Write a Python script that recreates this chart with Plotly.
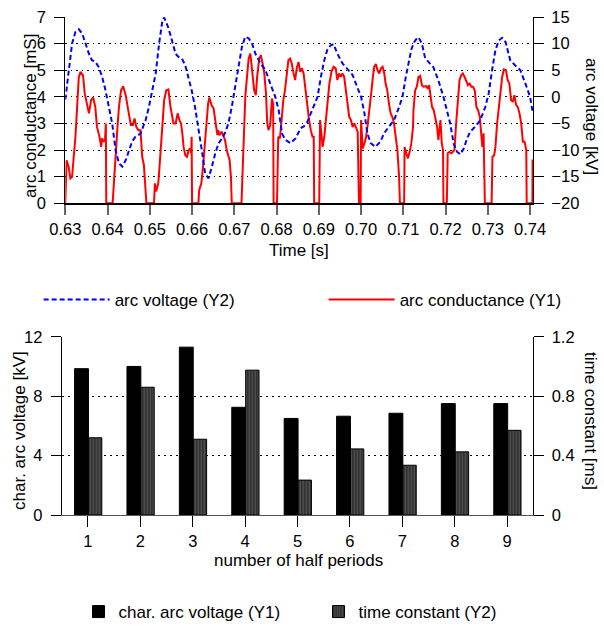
import plotly.graph_objects as go

# ---- upper panel: arc voltage and arc conductance over time ----
volt_t_ms = [
    630.0, 630.8, 631.6, 632.4, 633.2, 634.0, 634.75, 635.6, 636.3, 637.1,
    637.9, 638.7, 639.5, 640.3, 641.1, 641.5, 641.9, 642.7, 643.5, 644.3,
    645.1, 645.8, 646.6, 647.8, 649.0, 649.8, 650.6, 651.4, 652.2, 653.0,
    653.4, 654.2, 654.9, 656.1, 656.8, 657.6, 658.4, 659.1, 659.9, 660.7,
    661.5, 662.3, 663.1, 663.9, 664.7, 665.5, 666.3, 667.1, 667.9, 668.6,
    669.4, 670.2, 671.0, 671.8, 672.6, 673.4, 674.2, 675.0, 676.2, 677.4,
    678.5, 679.7, 680.5, 681.3, 682.1, 683.3, 684.5, 685.1, 685.7, 686.5,
    687.3, 688.1, 688.9, 689.7, 690.5, 691.3, 692.0, 692.8, 693.5, 694.4,
    695.6, 696.8, 698.0, 699.2, 700.0, 700.8, 701.5, 702.3, 703.4, 704.6,
    705.4, 706.6, 707.8, 709.0, 709.8, 710.6, 711.3, 711.9, 712.5, 713.2,
    713.6, 714.4, 715.1, 715.9, 717.1, 718.3, 719.5, 720.3, 721.1, 721.9,
    722.7, 723.5, 724.3, 725.1, 725.8, 727.0, 728.2, 729.4, 730.2, 731.0,
    731.8, 732.6, 733.4, 734.2, 735.3, 736.5, 737.7, 738.9, 740.0, 740.6,
]
volt_kv = [
    -0.5, 5.0, 10.0, 12.2, 12.7, 11.9, 10.0, 8.1, 6.9, 6.6,
    5.6, 3.8, 1.3, -1.9, -5.0, -7.5, -10.0, -12.5, -13.1, -11.9,
    -10.0, -8.4, -7.5, -6.9, -4.4, -1.9, 1.3, 4.4, 10.0, 14.4,
    14.9, 13.4, 11.6, 8.1, 7.5, 7.2, 5.9, 3.8, 1.3, -1.9,
    -5.6, -10.0, -14.4, -15.3, -13.1, -10.6, -8.7, -7.8, -6.6, -5.0,
    -1.9, 1.9, 6.3, 9.4, 11.3, 11.0, 10.0, 8.1, 6.3, 5.0,
    2.5, 0.0, -2.5, -6.9, -8.1, -8.7, -7.8, -6.9, -5.9, -5.5,
    -4.7, -3.1, -1.6, 0.0, 3.8, 6.9, 8.8, 9.7, 9.9, 8.1,
    6.3, 5.3, 4.1, 1.6, 0.0, -3.1, -6.9, -8.7, -9.4, -8.4,
    -6.9, -5.6, -4.4, -1.9, 0.0, 3.8, 6.9, 8.9, 10.2, 11.0,
    11.2, 10.0, 7.5, 6.6, 5.6, 3.1, 0.0, -2.5, -5.0, -8.7,
    -10.3, -10.8, -9.7, -7.8, -6.6, -5.6, -4.4, -1.9, 0.6, 5.0,
    8.8, 10.6, 11.1, 10.3, 6.9, 5.9, 5.0, 2.5, 0.0, -2.8,
]

cond_t_ms = [
    630.0, 630.3, 630.8, 631.2, 631.6, 632.0, 632.4, 632.8, 633.2, 633.6,
    634.2, 634.6, 635.2, 635.6, 636.1, 636.6, 637.1, 637.5, 638.1, 638.5,
    638.7, 639.1, 639.4, 639.6, 639.7, 641.2, 641.5, 641.9, 642.3, 642.7,
    643.2, 643.7, 644.3, 644.7, 645.1, 645.5, 646.0, 646.4, 646.8, 647.3,
    647.8, 648.2, 648.6, 649.0, 649.2, 651.0, 651.2, 651.5, 652.0, 652.3,
    652.6, 653.0, 653.4, 653.9, 654.4, 654.9, 655.6, 656.1, 656.6, 657.0,
    657.4, 657.7, 658.0, 658.4, 658.8, 659.2, 659.6, 659.8, 659.9, 660.0,
    661.5, 661.7, 662.2, 662.6, 663.0, 663.4, 663.8, 664.1, 664.6, 665.1,
    665.6, 666.0, 666.2, 666.5, 667.0, 667.4, 667.8, 668.2, 668.6, 668.9,
    669.2, 669.4, 671.7, 672.0, 672.3, 672.6, 673.0, 673.4, 673.8, 674.2,
    674.7, 675.1, 675.4, 675.9, 676.3, 676.7, 677.1, 677.5, 677.8, 678.1,
    678.5, 678.9, 679.2, 679.3, 680.1, 680.4, 680.8, 681.2, 681.6, 682.0,
    682.4, 682.8, 683.2, 683.6, 684.0, 684.4, 684.8, 685.2, 685.6, 686.0,
    686.4, 686.8, 687.3, 687.7, 688.1, 688.5, 688.8, 688.9, 690.1, 690.3,
    690.6, 690.9, 691.3, 691.7, 692.1, 692.5, 693.0, 693.5, 694.0, 694.4,
    694.8, 695.2, 695.6, 696.0, 696.4, 696.8, 697.2, 697.6, 698.0, 698.4,
    698.8, 699.2, 699.5, 699.9, 700.0, 700.4, 700.8, 701.2, 701.6, 702.0,
    702.4, 702.8, 703.1, 703.5, 703.9, 704.3, 704.7, 705.1, 705.5, 705.8,
    706.2, 706.6, 707.0, 707.4, 707.8, 708.2, 708.6, 709.0, 709.2, 710.2,
    710.3, 710.7, 711.1, 711.6, 711.9, 712.3, 712.4, 712.8, 713.2, 713.6,
    714.0, 714.4, 714.8, 715.4, 715.8, 716.1, 716.4, 716.8, 717.2, 717.6,
    718.0, 718.3, 718.6, 718.8, 719.1, 719.4, 719.5, 720.3, 720.5, 720.9,
    721.4, 722.1, 722.5, 722.9, 723.3, 723.7, 724.1, 724.5, 724.9, 725.3,
    725.7, 726.1, 726.5, 726.9, 727.3, 727.7, 728.1, 728.5, 728.7, 729.0,
    729.3, 730.9, 731.1, 731.5, 731.8, 732.2, 732.6, 733.0, 733.4, 733.8,
    734.3, 734.7, 735.1, 735.5, 735.9, 736.3, 736.7, 737.1, 737.5, 737.9,
    738.3, 738.7, 739.1, 739.2, 740.55, 740.6,
]
cond_mS = [
    0.0, 1.62, 1.37, 0.94, 0.99, 1.75, 2.5, 3.62, 4.75, 4.94,
    4.81, 4.13, 3.62, 3.38, 3.88, 3.98, 3.62, 2.87, 2.5, 2.12,
    2.44, 2.31, 2.4, 3.0, 0.0, 0.0, 0.75, 1.88, 2.75, 3.62,
    4.25, 4.4, 4.06, 3.69, 3.38, 2.94, 2.94, 3.19, 2.87, 2.75,
    2.75, 1.75, 1.44, 0.25, 0.0, 0.0, 0.75, 0.44, 0.75, 1.37,
    2.12, 3.13, 3.88, 4.25, 4.28, 3.62, 3.0, 3.0, 3.38, 3.13,
    3.0, 2.63, 2.12, 1.81, 1.75, 2.0, 2.06, 1.88, 2.5, 0.0,
    0.0, 0.5, 0.75, 1.37, 2.25, 3.13, 3.75, 3.98, 3.69, 3.56,
    3.0, 2.56, 2.75, 2.56, 2.69, 2.56, 2.38, 2.0, 1.75, 1.62,
    1.0, 0.0, 0.0, 1.62, 3.13, 4.0, 4.75, 5.44, 5.63, 5.0,
    4.25, 4.06, 4.75, 5.44, 5.57, 5.25, 4.88, 4.13, 3.0, 2.75,
    2.94, 3.94, 3.75, 0.0, 0.0, 2.5, 2.44, 3.13, 3.88, 4.25,
    4.88, 5.38, 5.44, 5.25, 4.9, 4.63, 5.1, 5.31, 4.94, 5.07,
    4.88, 4.3, 3.5, 3.13, 2.75, 2.5, 2.5, 0.0, 0.0, 3.13,
    2.63, 2.12, 2.5, 3.13, 3.88, 4.5, 4.94, 5.13, 5.07, 4.63,
    4.88, 4.75, 4.88, 4.75, 4.25, 3.75, 3.25, 3.13, 2.87, 3.0,
    2.87, 2.69, 0.0, 0.0, 3.13, 2.06, 2.25, 2.5, 3.0, 3.5,
    4.13, 4.75, 5.13, 5.23, 5.0, 4.88, 5.07, 5.13, 4.88, 4.5,
    4.25, 3.75, 3.38, 3.25, 3.0, 2.5, 2.0, 1.0, 0.0, 0.0,
    2.12, 1.88, 1.69, 2.0, 2.25, 2.87, 3.5, 4.25, 4.38, 4.75,
    4.79, 4.44, 4.38, 4.4, 4.31, 4.44, 4.13, 3.62, 3.5, 3.13,
    2.87, 2.38, 3.0, 3.13, 2.25, 2.0, 0.0, 0.0, 1.88, 1.93,
    1.88, 2.0, 3.0, 4.0, 4.63, 4.81, 4.88, 4.75, 4.56, 4.44,
    4.5, 4.38, 4.38, 4.25, 3.62, 3.5, 3.25, 2.25, 2.12, 2.63,
    0.0, 0.0, 1.75, 1.81, 2.12, 3.0, 3.62, 4.25, 4.75, 5.03,
    5.0, 4.63, 4.5, 3.88, 3.81, 4.06, 3.69, 3.62, 3.38, 3.0,
    2.31, 2.31, 2.0, 0.0, 0.0, 1.65,
]

# ---- lower panel: characteristic arc voltage and time constant ----
half_periods = [1, 2, 3, 4, 5, 6, 7, 8, 9]
char_voltage_kV = [9.85, 10.0, 11.3, 7.25, 6.5, 6.65, 6.85, 7.5, 7.5]
time_constant_ms = [0.52, 0.86, 0.51, 0.975, 0.235, 0.445, 0.335, 0.425, 0.57]

FONT = "Liberation Sans, Arial, sans-serif"
FS_TICK = 16.5
FS_TEXT = 17

volt_t_s = [t / 1000 for t in volt_t_ms]
cond_t_s = [t / 1000 for t in cond_t_ms]

fig = go.Figure()
fig.add_trace(go.Scatter(
    x=volt_t_s, y=volt_kv, xaxis="x", yaxis="y2", mode="lines",
    name="arc voltage (Y2)", legend="legend",
    line=dict(color="#0000ff", width=2, dash="5px,3px"),
))
fig.add_trace(go.Scatter(
    x=cond_t_s, y=cond_mS, xaxis="x", yaxis="y", mode="lines",
    name="arc conductance (Y1)", legend="legend",
    line=dict(color="#ff0000", width=2),
))
fig.add_trace(go.Bar(
    x=half_periods, y=char_voltage_kV, xaxis="x2", yaxis="y3",
    offset=-0.255, width=0.265, name="char. arc voltage (Y1)", legend="legend2",
    marker=dict(color="black", line=dict(color="black", width=1)),
))
fig.add_trace(go.Bar(
    x=half_periods, y=time_constant_ms, xaxis="x2", yaxis="y4",
    offset=0.01, width=0.255, name="time constant (Y2)", legend="legend2",
    marker=dict(
        color="#333333", line=dict(color="black", width=1),
        pattern=dict(shape="|", fgcolor="#7a7a7a", bgcolor="#333333",
                     size=3, solidity=0.35),
    ),
))

axis_common = dict(
    showline=True, linecolor="black", linewidth=1, ticks="outside",
    ticklen=10, tickcolor="black", zeroline=False, automargin=False,
    tickfont=dict(family=FONT, size=FS_TICK, color="black"),
)

fig.update_layout(
    width=604, height=626,
    margin=dict(l=0, r=0, t=0, b=0, autoexpand=False),
    paper_bgcolor="white", plot_bgcolor="white",
    font=dict(family=FONT, size=FS_TEXT, color="black"),
    barmode="overlay",
    xaxis=dict(
        axis_common, domain=[0.1081, 0.8825], anchor="y",
        range=[0.63, 0.7407], tick0=0.63, dtick=0.01, tickformat=".2f",
        showgrid=False, linewidth=1.5, tickcolor="#666666", tickwidth=1.5,
        ticklabelstandoff=0,
    ),
    yaxis=dict(
        axis_common, domain=[0.6752, 0.9728], anchor="x",
        range=[0, 7], dtick=1, showgrid=True, gridcolor="black",
        gridwidth=1, griddash="1.5px,4px", ticklabelstandoff=5,
    ),
    yaxis2=dict(
        axis_common, overlaying="y", side="right", anchor="x",
        range=[-20, 15], dtick=5, showgrid=False, ticklabelstandoff=4,
    ),
    xaxis2=dict(
        axis_common, domain=[0.1022, 0.883], anchor="y3",
        range=[0.5, 9.5], tickvals=half_periods, showgrid=False,
        linecolor="#555555", ticklen=11, ticklabelstandoff=0,
    ),
    yaxis3=dict(
        axis_common, domain=[0.1773, 0.4621], anchor="x2",
        range=[0, 12], dtick=4, showgrid=True, gridcolor="black",
        gridwidth=1, griddash="2px,4px", ticklabelstandoff=5,
    ),
    yaxis4=dict(
        axis_common, overlaying="y3", side="right", anchor="x2",
        range=[0, 1.2], dtick=0.4, showgrid=False, ticklabelstandoff=4,
    ),
    legend=dict(
        orientation="h", x=0.064, y=1 - 300 / 626,
        xanchor="left", yanchor="middle",
        bgcolor="rgba(0,0,0,0)", font=dict(family=FONT, size=FS_TEXT),
        entrywidth=204, itemwidth=66,
    ),
    legend2=dict(
        orientation="h", x=0.130, y=1 - 612 / 626,
        xanchor="left", yanchor="middle",
        bgcolor="rgba(0,0,0,0)", font=dict(family=FONT, size=FS_TEXT),
        entrywidth=195, itemwidth=30,
    ),
)

titles = [
    ("arc conductance [mS]", 31, 116, -90),
    ("arc voltage [kV]", 591, 116, 90),
    ("Time [s]", 299, 251, 0),
    ("char. arc voltage [kV]", 19, 431, -90),
    ("time constant [ms]", 591, 421, 90),
    ("number of half periods", 298, 560, 0),
]
for text, px, py, ang in titles:
    fig.add_annotation(
        text=text, xref="paper", yref="paper",
        x=px / 604, y=1 - py / 626, xanchor="center", yanchor="middle",
        showarrow=False, textangle=ang,
        font=dict(family=FONT, size=FS_TEXT, color="black"),
    )

fig.write_html("out.html")
